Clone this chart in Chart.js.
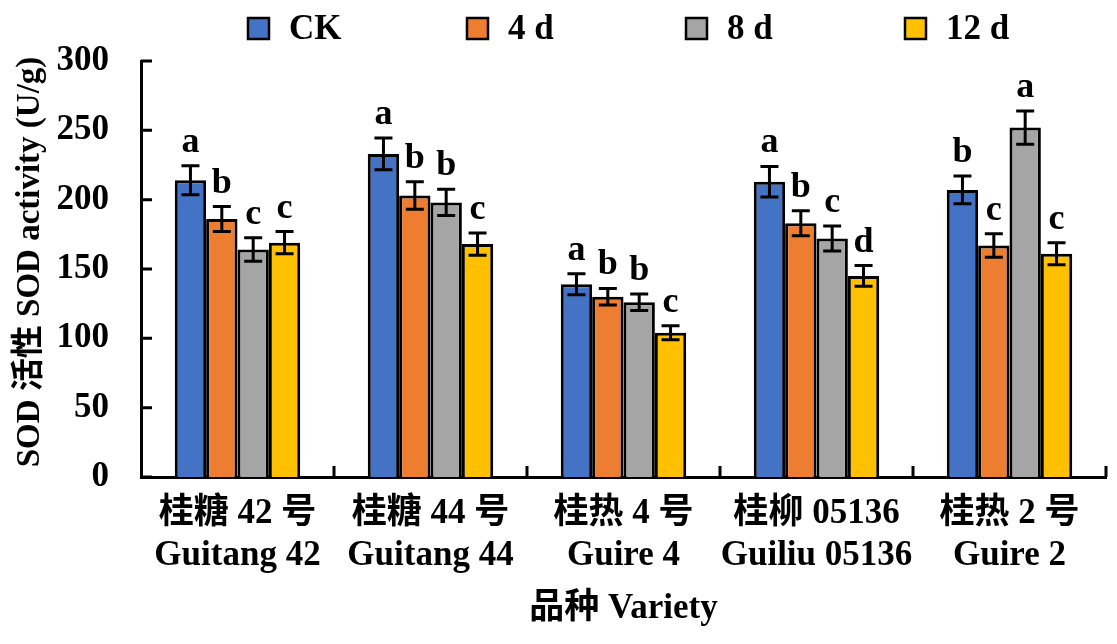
<html>
  <head>
    <script src="https://cdn.jsdelivr.net/npm/chart.js@4.4.0/dist/chart.umd.min.js"></script>
    <style>
      body { margin: 0; background: #fff; }
      #wrap { width: 1117px; height: 644px; }
    </style>
  </head>
  <body>
    <div id="wrap"><canvas id="barChart" width="1117" height="644"></canvas></div>
    <script>
      // categories (two-line tick labels)
      const varieties = [
        ['桂糖 42 号', 'Guitang 42'],
        ['桂糖 44 号', 'Guitang 44'],
        ['桂热 4 号', 'Guire 4'],
        ['桂柳 05136', 'Guiliu 05136'],
        ['桂热 2 号', 'Guire 2']
      ];
      const seriesNames = ['CK', '4 d', '8 d', '12 d'];

      // SOD activity (U/g)
      const ckValues = [214, 233, 139, 213, 207];
      const d4Values = [186, 203, 130, 183, 167];
      const d8Values = [164, 198, 126, 172, 252];
      const d12Values = [169, 168, 104, 145, 161];

      // error bar half-lengths
      const ckErr = [10.5, 11.5, 7.5, 11, 10];
      const d4Err = [9, 10, 6, 9, 8.5];
      const d8Err = [8.5, 9.5, 6, 9, 12];
      const d12Err = [8, 8, 5, 7.5, 8];

      // significance letters
      const ckLetters = ['a', 'a', 'a', 'a', 'b'];
      const d4Letters = ['b', 'b', 'b', 'b', 'c'];
      const d8Letters = ['c', 'b', 'b', 'c', 'a'];
      const d12Letters = ['c', 'c', 'c', 'd', 'c'];

      const yTicks = [0, 50, 100, 150, 200, 250, 300];

      const COLORS = ['#4472C4', '#ED7D31', '#A5A5A5', '#FFC000'];
      const FONT = "'Liberation Serif', 'Times New Roman', 'Noto Sans CJK SC', serif";

      const allValues = [ckValues, d4Values, d8Values, d12Values];
      const allErr = [ckErr, d4Err, d8Err, d12Err];
      const allLetters = [ckLetters, d4Letters, d8Letters, d12Letters];

      const initData = {
        labels: varieties,
        datasets: seriesNames.map(function(name, i) {
          return {
            label: name,
            data: allValues[i],
            backgroundColor: COLORS[i],
            borderColor: '#000',
            borderWidth: 3,
            borderSkipped: 'bottom',
            errors: allErr[i],
            letters: allLetters[i]
          };
        })
      };

      // error bars, letters, inside ticks, axis titles, legend
      const extras = {
        id: 'extras',
        afterDatasetsDraw: function(chart) {
          const ctx = chart.ctx;
          const y = chart.scales.y;
          const area = chart.chartArea;
          ctx.save();
          ctx.strokeStyle = '#000';
          ctx.lineWidth = 3;
          chart.data.datasets.forEach(function(ds, i) {
            const meta = chart.getDatasetMeta(i);
            meta.data.forEach(function(bar, j) {
              const v = ds.data[j], e = ds.errors[j];
              const yt = y.getPixelForValue(v + e);
              const yb = y.getPixelForValue(v - e);
              const cap = 9;
              ctx.beginPath();
              ctx.moveTo(bar.x, yt); ctx.lineTo(bar.x, yb);
              ctx.moveTo(bar.x - cap, yt); ctx.lineTo(bar.x + cap, yt);
              ctx.moveTo(bar.x - cap, yb); ctx.lineTo(bar.x + cap, yb);
              ctx.stroke();
              ctx.fillStyle = '#000';
              ctx.font = 'bold 36px ' + FONT;
              ctx.textAlign = 'center';
              ctx.textBaseline = 'alphabetic';
              ctx.fillText(ds.letters[j], bar.x, yt - 14);
            });
          });

          // inward tick marks
          ctx.beginPath();
          yTicks.forEach(function(t) {
            const py = y.getPixelForValue(t);
            ctx.moveTo(area.left, py); ctx.lineTo(area.left + 11, py);
          });
          const n = chart.data.labels.length;
          const w = (area.right - area.left) / n;
          for (let k = 1; k <= n; k++) {
            const px = area.left + k * w;
            ctx.moveTo(px, area.bottom); ctx.lineTo(px, area.bottom - 11);
          }
          ctx.stroke();

          // axis titles
          ctx.fillStyle = '#000';
          ctx.font = 'bold 35px ' + FONT;
          ctx.textAlign = 'center';
          ctx.textBaseline = 'middle';
          ctx.fillText('品种 Variety', (area.left + area.right) / 2, 609);
          ctx.save();
          ctx.translate(30, 262);
          ctx.rotate(-Math.PI / 2);
          ctx.font = 'bold 33px ' + FONT;
          ctx.fillText('SOD 活性 SOD activity (U/g)', 0, 0);
          ctx.restore();

          // legend
          ctx.font = 'bold 35px ' + FONT;
          ctx.textAlign = 'left';
          ctx.textBaseline = 'middle';
          chart.data.datasets.forEach(function(ds, i) {
            const lx = 248 + i * 219;
            ctx.fillStyle = ds.backgroundColor;
            ctx.fillRect(lx, 18, 21, 21);
            ctx.lineWidth = 2.5;
            ctx.strokeRect(lx, 18, 21, 21);
            ctx.fillStyle = '#000';
            ctx.fillText(ds.label, lx + 41, 30);
          });
          ctx.restore();
        }
      };

      window.onload = function() {
        const ctxBar = document.getElementById('barChart');
        window.myBar = new Chart(ctxBar, {
          type: 'bar',
          data: initData,
          plugins: [extras],
          options: {
            responsive: false,
            animation: false,
            layout: { padding: { top: 61, right: 11, left: 0, bottom: 0 } },
            plugins: {
              legend: { display: false },
              tooltip: { enabled: false }
            },
            datasets: {
              bar: { categoryPercentage: 0.65, barPercentage: 1.0 }
            },
            scales: {
              x: {
                grid: { display: false },
                border: { color: '#000', width: 3 },
                ticks: {
                  color: '#000',
                  padding: 8,
                  maxRotation: 0,
                  autoSkip: false,
                  font: { family: FONT, size: 35, weight: 'bold', lineHeight: 1.2 }
                },
                afterFit: function(scale) { scale.height = 167; }
              },
              y: {
                min: 0,
                max: 300,
                grid: { display: false },
                border: { color: '#000', width: 3 },
                ticks: {
                  stepSize: 50,
                  color: '#000',
                  padding: 24,
                  font: { family: FONT, size: 35, weight: 'bold' }
                },
                afterFit: function(scale) { scale.width = 141; }
              }
            }
          }
        });
      };
    </script>
  </body>
</html>
